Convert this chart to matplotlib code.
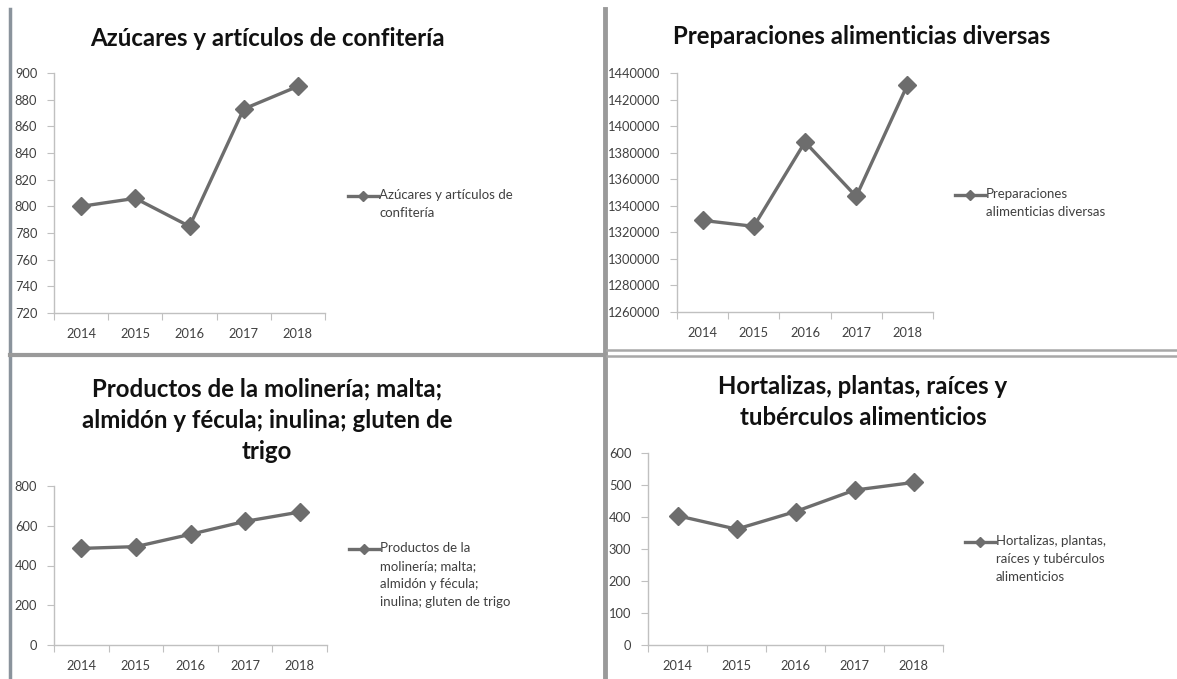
import matplotlib
matplotlib.use("Agg")
import matplotlib.pyplot as plt
from matplotlib.lines import Line2D
from matplotlib.ticker import StrMethodFormatter

years = ["2014", "2015", "2016", "2017", "2018"]

azucares = [800, 806, 785, 873, 890]
preparaciones = [1329000, 1324500, 1388000, 1347000, 1431000]
molineria = [486, 495, 557, 622, 669]
hortalizas = [404, 362, 417, 484, 508]

titles = [
    "Azúcares y artículos de confitería",
    "Preparaciones alimenticias diversas",
    "Productos de la molinería; malta;\nalmidón y fécula; inulina; gluten de\ntrigo",
    "Hortalizas, plantas, raíces y\ntubérculos alimenticios",
]
legend_labels = [
    "Azúcares y artículos de\nconfitería",
    "Preparaciones\nalimenticias diversas",
    "Productos de la\nmolinería; malta;\nalmidón y fécula;\ninulina; gluten de trigo",
    "Hortalizas, plantas,\nraíces y tubérculos\nalimenticios",
]
series = [azucares, preparaciones, molineria, hortalizas]
yranges = [(720, 900, 20), (1260000, 1440000, 20000), (0, 800, 200), (0, 600, 100)]

plt.rcParams['font.family'] = ['Lato', 'DejaVu Sans']

W, H = 1177, 679
fig = plt.figure(figsize=(W / 100, H / 100), dpi=100)

# pixel layout
layout = [
    dict(ax=(54, 73, 325, 313), tx=267, ty=38, lx=348, ly=196),
    dict(ax=(677, 73, 933, 312), tx=862, ty=37, lx=955, ly=195),
    dict(ax=(54, 486, 327, 645), tx=267, ty=420, lx=349, ly=549),
    dict(ax=(648, 453, 943, 645), tx=863, ty=402, lx=965, ly=542),
]

line_color = "#6d6d6d"
axis_color = "#c0c0c0"
text_color = "#404040"

def px(xp, yp):
    return xp / W, 1 - yp / H

for i in range(4):
    L = layout[i]
    l, t, r, b = L["ax"]
    ax = fig.add_axes([l / W, 1 - b / H, (r - l) / W, (b - t) / H])
    x = list(range(len(years)))
    ax.plot(x, series[i], color=line_color, lw=2.4, marker="D", ms=9,
            markerfacecolor=line_color, markeredgecolor=line_color,
            label=legend_labels[i])
    lo, hi, st = yranges[i]
    ax.set_ylim(lo, hi)
    ax.set_yticks(list(range(lo, hi + 1, st)))
    ax.yaxis.set_major_formatter(StrMethodFormatter("{x:.0f}"))
    ax.set_xlim(-0.5, len(years) - 0.5)
    ax.set_xticks([k - 0.5 for k in range(len(years) + 1)])
    ax.set_xticklabels([])
    ax.set_xticks(x, minor=True)
    ax.set_xticklabels(years, minor=True)
    ax.tick_params(axis="x", which="minor", length=0, pad=11, labelsize=9.3, labelcolor=text_color)
    ax.tick_params(axis="x", which="major", length=5, color=axis_color, direction="out")
    ax.tick_params(axis="y", length=5, color=axis_color, direction="out", labelsize=9.3,
                   labelcolor=text_color, pad=7)
    for s in ["top", "right"]:
        ax.spines[s].set_visible(False)
    for s in ["left", "bottom"]:
        ax.spines[s].set_color(axis_color)
        ax.spines[s].set_linewidth(1.0)
    fig.text(*px(L["tx"], L["ty"]), titles[i], ha="center", va="center",
             fontsize=17.3, fontweight="bold", color="#111111", linespacing=1.45)
    # legend entry
    lx, ly = L["lx"], L["ly"]
    fig.add_artist(Line2D([lx / W, (lx + 30) / W], [1 - ly / H] * 2, color=line_color, lw=2.4,
                          transform=fig.transFigure))
    fig.add_artist(Line2D([(lx + 15) / W], [1 - ly / H], color=line_color, marker="D", ms=5,
                          lw=0, transform=fig.transFigure))
    fig.text(*px(lx + 31, ly - 7), legend_labels[i], ha="left", va="top",
             fontsize=9.5, color=text_color, linespacing=1.6)

# panel separators
def fline(xs, ys, color, lw):
    fig.add_artist(Line2D([v / W for v in xs], [1 - v / H for v in ys], color=color, lw=lw,
                          transform=fig.transFigure))

fline([9.5, 9.5], [9, 679], "#8a939c", 2.5)
fline([605, 605], [9, 679], "#9a9a9a", 3.5)
fline([9.5, 603], [354.5, 354.5], "#9a9a9a", 3)
fline([607, 1177], [350, 350], "#a8a8a8", 1.8)
fline([607, 1177], [355.5, 355.5], "#a8a8a8", 1.8)

fig.savefig("out.png", dpi=100)
